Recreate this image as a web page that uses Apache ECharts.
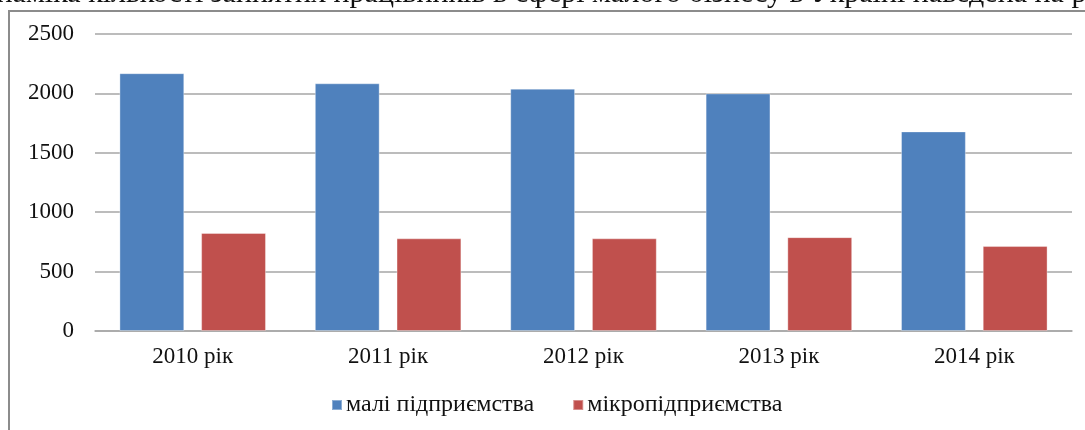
<!DOCTYPE html>
<html>
<head>
<meta charset="utf-8">
<script src="https://cdn.jsdelivr.net/npm/echarts@6/dist/echarts.min.js"></script>
<style>
  html, body { margin: 0; padding: 0; background: #fff; }
  #chart { width: 1085px; height: 430px; }
</style>
</head>
<body>
<div id="chart"></div>
<script>
// дані з рисунку
var years = ['2010 рік', '2011 рік', '2012 рік', '2013 рік', '2014 рік']
var small = [2170, 2085, 2040, 2000, 1680]
var micro = [825, 780, 780, 790, 715]
var seriesNames = ['малі підприємства', 'мікропідприємства']
var yTicks = { min: 0, max: 2500, step: 500 }

var font = '"Liberation Serif", "DejaVu Serif", serif'
var chart = echarts.init(document.getElementById('chart'))

chart.setOption({
  animation: false,
  color: ['#4f81bd', '#c0504d'],
  grid: { left: 95, right: 13, top: 34, bottom: 99 },
  graphic: [
    {
      type: 'rect',
      shape: { x: 9, y: 11, width: 1200, height: 500 },
      style: { fill: 'none', stroke: '#8c8c8c', lineWidth: 2 },
      silent: true
    },
    {
      type: 'text',
      left: -40,
      top: -21,
      style: {
        text: 'Динаміка кількості зайнятих працівників в сфері малого бізнесу в Україні наведена на рис.',
        font: '30px ' + font,
        fill: '#111'
      },
      silent: true
    }
  ],
  legend: {
    data: seriesNames,
    bottom: 8,
    left: 326,
    itemWidth: 10,
    itemHeight: 10,
    itemGap: 38,
    icon: 'rect',
    textStyle: { fontFamily: font, fontSize: 24, color: '#111', padding: [0, 0, 0, -1] }
  },
  xAxis: {
    type: 'category',
    data: years,
    axisTick: { show: false },
    axisLine: { lineStyle: { color: '#a6a6a6', width: 1.5 } },
    axisLabel: { fontFamily: font, fontSize: 23, color: '#111', margin: 14 }
  },
  yAxis: {
    type: 'value',
    min: yTicks.min,
    max: yTicks.max,
    interval: yTicks.step,
    axisLine: { show: false },
    axisTick: { show: false },
    splitLine: { lineStyle: { color: '#a6a6a6', width: 1.5 } },
    axisLabel: {
      fontFamily: font, fontSize: 23, color: '#111', margin: 21,
      formatter: function (v) { return String(v) }
    }
  },
  series: [
    {
      name: seriesNames[0],
      type: 'bar',
      data: small,
      barCategoryGap: '25%',
      barGap: '26%',
      itemStyle: { borderColor: 'rgba(255,255,255,0.35)', borderWidth: 1 }
    },
    {
      name: seriesNames[1],
      type: 'bar',
      data: micro,
      barCategoryGap: '25%',
      barGap: '26%',
      itemStyle: { borderColor: 'rgba(255,255,255,0.35)', borderWidth: 1 }
    }
  ]
})
</script>
</body>
</html>
